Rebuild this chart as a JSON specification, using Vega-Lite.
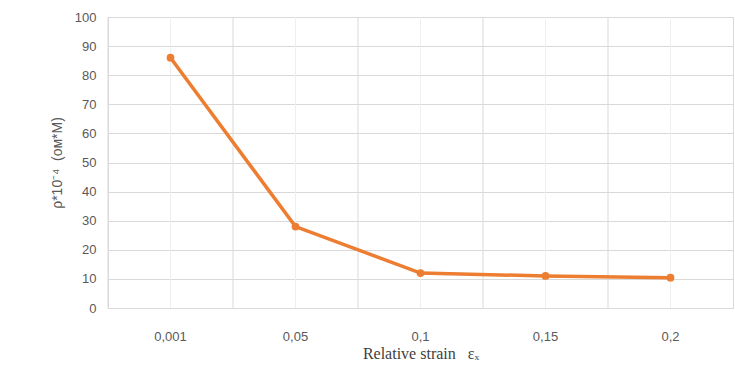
{
  "$schema": "https://vega.github.io/schema/vega-lite/v6.json",
  "width": 625,
  "height": 291,
  "autosize": {"type": "none"},
  "padding": {"left": 108, "top": 17, "right": 2, "bottom": 61},
  "background": "white",
  "config": {
    "view": {"stroke": "#d9d9d9", "strokeWidth": 1},
    "axis": {"labelFont": "Liberation Sans", "titleFont": "Liberation Sans", "labelColor": "#595959", "titleColor": "#595959"}
  },
  "data": {
    "values": [
      {"strain": "0,001", "rho": 86},
      {"strain": "0,05", "rho": 28},
      {"strain": "0,1", "rho": 12},
      {"strain": "0,15", "rho": 11},
      {"strain": "0,2", "rho": 10.4}
    ]
  },
  "encoding": {
    "x": {
      "field": "strain",
      "type": "nominal",
      "sort": null,
      "scale": {"paddingInner": 0, "paddingOuter": 0},
      "axis": {
        "title": "Relative strain\u00a0\u00a0\u00a0εₓ",
        "titleFont": "Liberation Serif",
        "titleFontSize": 16,
        "titleFontWeight": "normal",
        "titleColor": "#404040",
        "titlePadding": 2,
        "labelAngle": 0,
        "labelFontSize": 13,
        "labelPadding": 22,
        "ticks": false,
        "domain": false,
        "grid": false
      }
    }
  },
  "layer": [
    {
      "mark": {"type": "rule", "color": "#efefef", "strokeWidth": 1},
      "encoding": {"x": {"field": "strain", "type": "nominal", "sort": null, "bandPosition": 0.5}}
    },
    {
      "mark": {"type": "rule", "color": "#d9d9d9", "strokeWidth": 1},
      "encoding": {"x": {"field": "strain", "type": "nominal", "sort": null, "bandPosition": 0}}
    },
    {
      "mark": {"type": "line", "color": "#ED7D31", "strokeWidth": 3.5, "point": {"filled": true, "size": 60, "color": "#ED7D31"}},
      "encoding": {
        "y": {
          "field": "rho",
          "type": "quantitative",
          "scale": {"domain": [0, 100], "nice": false},
          "axis": {
            "title": "ρ*10⁻⁴\u00a0\u00a0(ом*М)",
            "titleFontSize": 14,
            "titleFontWeight": "normal",
            "titlePadding": 10,
            "values": [0, 10, 20, 30, 40, 50, 60, 70, 80, 90, 100],
            "labelFontSize": 13,
            "labelPadding": 12,
            "ticks": false,
            "domain": false,
            "grid": true,
            "gridColor": "#d9d9d9"
          }
        }
      }
    }
  ]
}
